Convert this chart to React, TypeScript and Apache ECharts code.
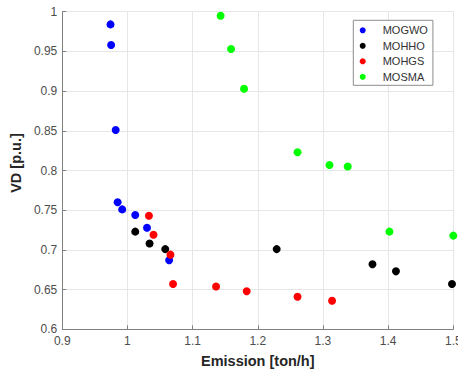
import React, { useEffect, useRef } from "react";
import * as echarts from "echarts";

// Pareto fronts: emission (ton/h) vs voltage deviation (p.u.)
const seriesNames = ["MOGWO", "MOHHO", "MOHGS", "MOSMA"];
const seriesColors = ["#0000ff", "#000000", "#ff0000", "#00ff00"];

const mogwoEmission = [0.974, 0.975, 0.982, 0.985, 0.992, 1.012, 1.03, 1.064];
const mogwoVD = [0.984, 0.958, 0.851, 0.76, 0.751, 0.744, 0.728, 0.687];

const mohhoEmission = [1.012, 1.034, 1.058, 1.229, 1.376, 1.412, 1.498];
const mohhoVD = [0.723, 0.708, 0.701, 0.701, 0.682, 0.673, 0.657];

const mohgsEmission = [1.033, 1.04, 1.066, 1.07, 1.136, 1.183, 1.261, 1.314];
const mohgsVD = [0.743, 0.719, 0.694, 0.657, 0.654, 0.648, 0.641, 0.636];

const mosmaEmission = [1.143, 1.159, 1.179, 1.261, 1.31, 1.338, 1.402, 1.5];
const mosmaVD = [0.995, 0.953, 0.903, 0.823, 0.807, 0.805, 0.723, 0.718];

const xTicks = { min: 0.9, max: 1.5, interval: 0.1 };
const yTicks = { min: 0.6, max: 1, interval: 0.05 };

const FONT = "'Liberation Sans', Arial, Helvetica, sans-serif";

const pairs = (xs: number[], ys: number[]) => xs.map((x, i) => [x, ys[i]]);

export default function App() {
  const ref = useRef<HTMLDivElement>(null);

  useEffect(() => {
    if (!ref.current) return;
    const chart = echarts.init(ref.current, null, { renderer: "svg" });
    const data = [
      pairs(mogwoEmission, mogwoVD),
      pairs(mohhoEmission, mohhoVD),
      pairs(mohgsEmission, mohgsVD),
      pairs(mosmaEmission, mosmaVD),
    ];
    const fmt = (v: number) => String(+v.toFixed(2));
    chart.setOption({
      animation: false,
      backgroundColor: "#ffffff",
      grid: { left: 62, top: 11.7, right: 26.7, bottom: 45.7, containLabel: false },
      xAxis: {
        type: "value",
        min: xTicks.min,
        max: xTicks.max,
        interval: xTicks.interval,
        name: "Emission [ton/h]",
        nameLocation: "middle",
        nameGap: 24,
        nameTextStyle: { fontFamily: FONT, fontSize: 14.5, fontWeight: "bold", color: "#262626" },
        axisLine: { onZero: false, lineStyle: { color: "#808080", width: 1 } },
        axisTick: { show: true, inside: true, length: 4, lineStyle: { color: "#808080" } },
        axisLabel: { fontFamily: FONT, fontSize: 12, color: "#4d4d4d", margin: 6, formatter: fmt },
        splitLine: { show: true, lineStyle: { color: "#e6e6e6", width: 1 } },
      },
      yAxis: {
        type: "value",
        min: yTicks.min,
        max: yTicks.max,
        interval: yTicks.interval,
        name: "VD [p.u.]",
        nameLocation: "middle",
        nameRotate: 90,
        nameGap: 33,
        nameTextStyle: {
          fontFamily: FONT,
          fontSize: 14.5,
          fontWeight: "bold",
          color: "#262626",
          padding: [0, 0, 0, 15],
        },
        axisLine: { show: true, onZero: false, lineStyle: { color: "#808080", width: 1 } },
        axisTick: { show: true, inside: true, length: 4, lineStyle: { color: "#808080" } },
        axisLabel: { fontFamily: FONT, fontSize: 12, color: "#4d4d4d", margin: 5, formatter: fmt },
        splitLine: { show: true, lineStyle: { color: "#e6e6e6", width: 1 } },
      },
      legend: {
        orient: "vertical",
        left: 353.3,
        top: 20.3,
        padding: [3.5, 5, 2, 6.4],
        itemGap: 2.5,
        itemWidth: 30,
        itemHeight: 6,
        icon: "circle",
        borderColor: "#8c8c8c",
        borderWidth: 1,
        backgroundColor: "#ffffff",
        textStyle: { fontFamily: FONT, fontSize: 11, color: "#333333", lineHeight: 13 },
        data: seriesNames,
      },
      series: seriesNames.map((name, i) => ({
        name,
        type: "scatter",
        symbol: "circle",
        symbolSize: 8,
        clip: false,
        itemStyle: { color: seriesColors[i], opacity: 1 },
        data: data[i],
      })),
    });
    return () => chart.dispose();
  }, []);

  return (
    <div
      style={{
        position: "fixed",
        left: 0,
        top: 0,
        width: 458,
        height: 375,
        overflow: "hidden",
        background: "#ffffff",
      }}
    >
      <div ref={ref} style={{ width: 480, height: 375 }} />
    </div>
  );
}
